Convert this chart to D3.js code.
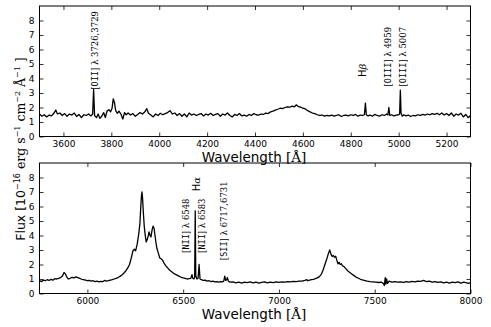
<!DOCTYPE html>
<meta charset="utf-8">
<html>
<head>
<script src="https://d3js.org/d3.v7.min.js"></script>
<style>
  body { margin: 0; background: #fff; }
  svg { display: block; }
  .tick text { font-family: "DejaVu Sans", sans-serif; font-size: 9px; }
</style>
</head>
<body>
<svg id="chart" width="491" height="327"></svg>

<script>
// ---------------- data ----------------
// blue part of the spectrum, [wavelength, flux]
const topSpectrum = [
  [3500,1.55],[3510,1.40],[3520,1.50],[3530,1.35],[3540,1.48],[3550,1.42],[3560,1.60],[3568,1.82],[3575,1.55],[3585,1.62],
  [3595,1.45],[3605,1.58],[3615,1.40],[3625,1.55],[3635,1.48],[3645,1.62],[3655,1.38],[3665,1.52],[3675,1.30],[3685,1.50],
  [3695,1.45],[3705,1.55],[3715,1.42],[3722,1.55],[3726,3.25],[3730,1.45],[3738,1.30],[3745,1.55],[3752,1.25],[3760,1.40],
  [3768,1.65],[3775,1.30],[3782,1.75],[3790,1.85],[3797,1.70],[3803,1.95],[3808,2.60],[3813,2.35],[3818,1.80],[3825,1.60],
  [3832,1.75],[3840,1.55],[3848,1.20],[3855,1.65],[3862,1.50],[3870,1.62],[3880,1.48],[3890,1.58],[3900,1.40],[3910,1.52],
  [3920,1.65],[3930,1.55],[3940,1.70],[3948,1.92],[3955,1.60],[3965,1.48],[3975,1.35],[3985,1.55],[3995,1.45],[4005,1.60],
  [4015,1.50],[4025,1.58],[4035,1.65],[4045,1.78],[4055,1.55],[4065,1.62],[4075,1.45],[4085,1.58],[4095,1.40],[4105,1.55],
  [4115,1.35],[4125,1.62],[4135,1.48],[4145,1.55],[4155,1.45],[4165,1.52],[4175,1.58],[4185,1.42],[4195,1.55],[4205,1.48],
  [4215,1.60],[4225,1.45],[4235,1.52],[4245,1.58],[4255,1.40],[4265,1.55],[4275,1.48],[4285,1.62],[4295,1.45],[4305,1.35],
  [4315,1.52],[4325,1.45],[4335,1.58],[4345,1.42],[4355,1.48],[4365,1.40],[4375,1.52],[4385,1.45],[4395,1.58],[4405,1.50],
  [4415,1.48],[4425,1.55],[4435,1.52],[4445,1.62],[4455,1.58],[4465,1.70],[4475,1.75],[4485,1.82],[4495,1.88],[4505,1.95],
  [4515,1.92],[4525,2.00],[4535,2.05],[4545,2.02],[4555,2.10],[4565,2.05],[4572,2.18],[4580,2.08],[4590,2.02],[4600,1.95],
  [4610,1.90],[4620,1.78],[4630,1.70],[4640,1.62],[4650,1.58],[4660,1.50],[4670,1.45],[4680,1.48],[4690,1.40],[4700,1.45],
  [4710,1.42],[4720,1.48],[4730,1.40],[4740,1.45],[4750,1.50],[4760,1.38],[4770,1.45],[4780,1.48],[4790,1.42],[4800,1.50],
  [4810,1.45],[4820,1.52],[4830,1.40],[4840,1.48],[4850,1.45],[4857,1.50],[4861,2.30],[4865,1.50],[4872,1.42],[4880,1.48],
  [4890,1.40],[4900,1.52],[4910,1.45],[4920,1.40],[4930,1.50],[4940,1.45],[4950,1.55],[4955,1.48],[4959,2.00],[4963,1.45],
  [4970,1.50],[4980,1.42],[4990,1.48],[5000,1.50],[5004,1.55],[5007,3.20],[5010,1.60],[5015,1.40],[5022,1.50],[5030,1.42],
  [5040,1.48],[5050,1.38],[5060,1.45],[5070,1.42],[5080,1.50],[5090,1.45],[5100,1.52],[5110,1.48],[5120,1.55],[5130,1.50],
  [5140,1.58],[5150,1.52],[5160,1.60],[5170,1.50],[5180,1.62],[5190,1.48],[5200,1.58],[5210,1.45],[5220,1.62],[5230,1.40],
  [5240,1.55],[5250,1.48],[5260,1.60],[5270,1.35],[5280,1.52],[5290,1.30],[5300,1.45]
];

// red part of the spectrum, [wavelength, flux]
const bottomSpectrum = [
  [5750,0.90],[5760,0.82],[5770,0.92],[5780,0.88],[5790,0.95],[5800,0.90],[5810,0.98],[5820,0.92],[5830,1.02],[5840,1.00],
  [5850,1.05],[5860,1.10],[5870,1.20],[5878,1.45],[5885,1.35],[5892,1.15],[5900,1.00],[5910,1.05],[5920,1.12],[5930,1.08],
  [5940,1.15],[5950,1.10],[5960,1.05],[5970,0.98],[5980,0.95],[5990,0.92],[6000,0.88],[6010,0.90],[6020,0.85],[6030,0.88],
  [6040,0.82],[6050,0.85],[6060,0.80],[6070,0.84],[6080,0.82],[6090,0.90],[6100,0.85],[6110,0.88],[6120,0.92],[6130,0.95],
  [6140,1.00],[6150,1.05],[6160,1.10],[6170,1.18],[6180,1.28],[6190,1.40],[6200,1.55],[6210,1.75],[6220,2.00],[6230,2.50],
  [6238,2.95],[6245,3.05],[6252,2.95],[6260,3.40],[6268,4.10],[6274,4.80],[6278,5.80],[6282,6.70],[6285,7.00],[6288,6.60],
  [6292,5.60],[6297,4.60],[6302,4.00],[6307,3.55],[6312,3.70],[6318,4.00],[6322,4.25],[6327,4.00],[6332,3.90],[6338,4.40],
  [6343,4.65],[6348,4.50],[6353,4.00],[6358,3.50],[6363,3.10],[6370,2.80],[6378,2.45],[6385,2.40],[6392,2.30],[6400,2.10],
  [6410,1.90],[6420,1.75],[6430,1.60],[6440,1.50],[6450,1.40],[6460,1.32],[6470,1.25],[6480,1.18],[6490,1.12],[6500,1.08],
  [6510,1.05],[6520,1.00],[6530,1.02],[6540,1.05],[6546,1.30],[6550,1.05],[6556,1.00],[6560,1.10],[6563,5.70],[6566,1.20],
  [6572,1.00],[6578,1.05],[6583,2.00],[6588,1.00],[6595,0.95],[6605,0.90],[6615,0.92],[6625,0.85],[6635,0.88],[6645,0.82],
  [6655,0.85],[6665,0.80],[6675,0.82],[6685,0.78],[6695,0.82],[6705,0.80],[6712,0.85],[6717,1.20],[6722,0.90],[6727,0.95],
  [6731,1.10],[6736,0.85],[6745,0.78],[6760,0.80],[6775,0.74],[6790,0.78],[6805,0.72],[6820,0.78],[6835,0.75],[6850,0.80],
  [6865,0.74],[6880,0.78],[6895,0.72],[6910,0.76],[6925,0.80],[6940,0.74],[6955,0.78],[6970,0.75],[6985,0.80],[7000,0.76],
  [7015,0.80],[7030,0.78],[7045,0.82],[7060,0.80],[7075,0.84],[7090,0.82],[7105,0.86],[7120,0.85],[7135,0.90],[7145,0.95],
  [7150,0.88],[7160,0.92],[7170,0.95],[7180,0.98],[7190,1.02],[7200,1.08],[7210,1.15],[7220,1.30],[7230,1.60],[7240,2.00],
  [7250,2.40],[7258,2.75],[7265,3.00],[7272,2.70],[7278,2.55],[7284,2.62],[7290,2.50],[7296,2.58],[7302,2.30],[7308,2.05],
  [7314,2.15],[7320,2.00],[7326,2.05],[7332,1.90],[7340,1.85],[7350,1.70],[7360,1.55],[7370,1.45],[7380,1.35],[7390,1.25],
  [7400,1.15],[7415,1.05],[7430,0.95],[7445,0.90],[7460,0.85],[7475,0.82],[7490,0.80],[7505,0.78],[7520,0.76],[7535,0.78],
  [7545,0.70],[7550,0.55],[7555,1.10],[7558,0.65],[7562,1.00],[7567,0.70],[7575,0.85],[7590,0.78],[7605,0.82],[7620,0.78],
  [7635,0.80],[7650,0.76],[7665,0.82],[7680,0.78],[7695,0.84],[7710,0.80],[7725,0.86],[7740,0.84],[7755,0.90],[7770,0.82],
  [7785,0.86],[7800,0.78],[7815,0.82],[7830,0.76],[7845,0.80],[7860,0.74],[7875,0.78],[7890,0.72],[7905,0.78],[7920,0.75],
  [7935,0.80],[7950,0.72],[7965,0.78],[7980,0.74],[7990,0.70],[8000,0.76]
];

const topXTicks = [3600, 3800, 4000, 4200, 4400, 4600, 4800, 5000, 5200];
const bottomXTicks = [6000, 6500, 7000, 7500, 8000];
const yTicks = [0, 1, 2, 3, 4, 5, 6, 7, 8];

// line labels: ion (typewriter), rest of label, wavelength where the label sits, flux at its foot
const topLabels = [
  { ion: "OII",  rest: " λ 3726,3729", wave: 3728, flux: 3.22 },
  { greek: "β",  wave: 4847, flux: 4.10 },
  { ion: "OIII", rest: " λ 4959",      wave: 4952, flux: 3.45 },
  { ion: "OIII", rest: " λ 5007",      wave: 5014, flux: 3.45 }
];
const bottomLabels = [
  { ion: "NII",  rest: " λ 6548",      wave: 6512, flux: 2.80 },
  { greek: "α",  wave: 6570, flux: 7.05 },
  { ion: "NII",  rest: " λ 6583",      wave: 6598, flux: 2.80 },
  { ion: "SII",  rest: " λ 6717,6731", wave: 6708, flux: 2.30 }
];

// ---------------- layout ----------------
const svg = d3.select("#chart");
const left = 39.5, right = 470.5, panelH = 130.5;

const panels = [
  { id: "top", top: 6,   domain: [3500, 5300], spec: topSpectrum,    ticks: topXTicks,    labels: topLabels },
  { id: "bot", top: 163, domain: [5750, 8000], spec: bottomSpectrum, ticks: bottomXTicks, labels: bottomLabels }
];

panels.forEach(p => {
  const x = d3.scaleLinear().domain(p.domain).range([left, right]);
  const y = d3.scaleLinear().domain([0, 9]).range([p.top + panelH, p.top]);
  const g = svg.append("g").attr("id", p.id);

  g.append("clipPath").attr("id", "clip-" + p.id)
    .append("rect").attr("x", left).attr("y", p.top).attr("width", right - left).attr("height", panelH);

  // spectrum
  g.append("path")
    .datum(p.spec)
    .attr("clip-path", "url(#clip-" + p.id + ")")
    .attr("fill", "none")
    .attr("stroke", "#000")
    .attr("stroke-width", 1.3)
    .attr("stroke-linejoin", "round")
    .attr("d", d3.line().x(d => x(d[0])).y(d => y(d[1])));

  // axes, ticks pointing inwards like matplotlib
  const bottomAxis = d3.axisBottom(x).tickValues(p.ticks).tickFormat(d3.format("d")).tickSizeInner(-4).tickSizeOuter(0).tickPadding(4);
  const topAxis = d3.axisTop(x).tickValues(p.ticks).tickFormat("").tickSizeInner(-4).tickSizeOuter(0);
  const leftAxis = d3.axisLeft(y).tickValues(yTicks).tickFormat(d3.format("d")).tickSizeInner(-4).tickSizeOuter(0).tickPadding(5);
  const rightAxis = d3.axisRight(y).tickValues(yTicks).tickFormat("").tickSizeInner(-4).tickSizeOuter(0);

  g.append("g").attr("transform", `translate(0,${p.top + panelH})`).call(bottomAxis);
  g.append("g").attr("transform", `translate(0,${p.top})`).call(topAxis);
  g.append("g").attr("transform", `translate(${left},0)`).call(leftAxis);
  g.append("g").attr("transform", `translate(${right},0)`).call(rightAxis);
  g.selectAll(".domain").remove();
  g.selectAll(".tick line").attr("stroke", "#000").attr("stroke-width", 0.8);
  g.selectAll(".tick text").attr("fill", "#000");

  // frame
  g.append("rect")
    .attr("x", left).attr("y", p.top).attr("width", right - left).attr("height", panelH)
    .attr("fill", "none").attr("stroke", "#000").attr("stroke-width", 1);

  // x title
  const xt = g.append("text")
    .attr("x", (left + right) / 2 - 1)
    .attr("y", p.top + panelH + 25)
    .attr("text-anchor", "middle")
    .style("font-family", "DejaVu Sans, sans-serif")
    .style("font-size", "13.5px");
  xt.append("tspan").text("Wavelength ");
  xt.append("tspan").style("font-family", "DejaVu Serif, serif").text("[Å]");

  // line identifications, vertical
  p.labels.forEach(l => {
    const t = g.append("text")
      .attr("transform", `translate(${x(l.wave) + 3.5},${y(l.flux)}) rotate(-90)`)
      .attr("text-anchor", "start")
      .style("font-family", "DejaVu Serif, serif")
      .style("font-size", "8.5px");
    if (l.greek) {
      t.style("font-size", "10px");
      t.append("tspan").style("font-family", "DejaVu Sans, sans-serif").text("H");
      t.append("tspan").style("font-style", "italic").text(l.greek);
    } else {
      t.append("tspan").text("[");
      t.append("tspan").style("font-family", "DejaVu Sans Mono, monospace").text(l.ion);
      t.append("tspan").text("]" + l.rest);
    }
  });
});

// shared y title
const yl = svg.append("text")
  .attr("transform", "translate(25,149) rotate(-90)")
  .attr("text-anchor", "middle")
  .style("font-family", "DejaVu Sans, sans-serif")
  .style("font-size", "12.5px");
yl.append("tspan").text("Flux [10");
yl.append("tspan").attr("dy", -5.5).style("font-size", "8px").text("−16");
yl.append("tspan").attr("dy", 5.5).style("font-family", "DejaVu Serif, serif").text(" erg s");
yl.append("tspan").attr("dy", -5.5).style("font-size", "8px").style("font-family", "DejaVu Serif, serif").text("−1");
yl.append("tspan").attr("dy", 5.5).style("font-family", "DejaVu Serif, serif").text(" cm");
yl.append("tspan").attr("dy", -5.5).style("font-size", "8px").style("font-family", "DejaVu Serif, serif").text("−2");
yl.append("tspan").attr("dy", 5.5).style("font-family", "DejaVu Serif, serif").text(" Å");
yl.append("tspan").attr("dy", -5.5).style("font-size", "8px").style("font-family", "DejaVu Serif, serif").text("−1");
yl.append("tspan").attr("dy", 5.5).style("font-family", "DejaVu Serif, serif").text(" ]");
</script>
</body>
</html>
